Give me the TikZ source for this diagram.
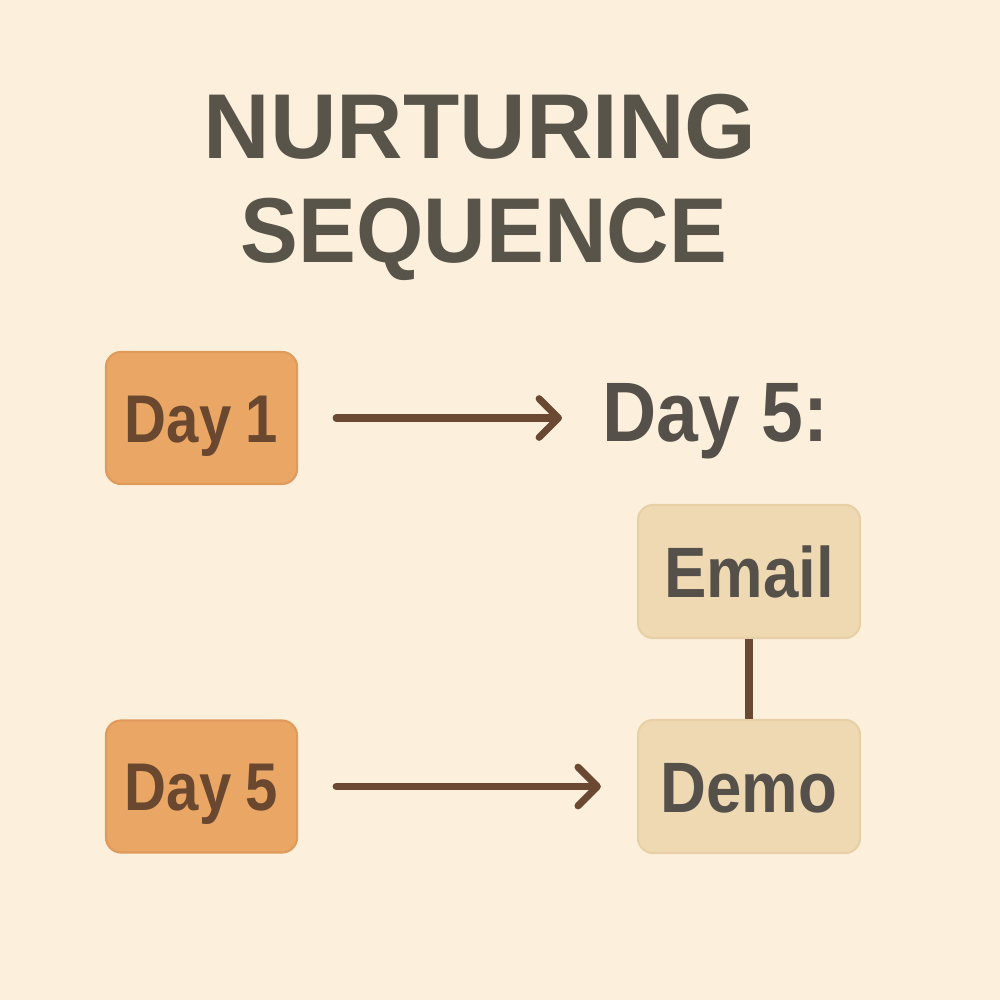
\documentclass[tikz,border=0pt]{standalone}
\usepackage{fontspec}
\setmainfont{Liberation Sans}
\newfontfamily\labelfont[FakeStretch=0.89]{Liberation Sans}
\newfontfamily\dayfont[FakeStretch=0.86, WordSpace=0.9]{Liberation Sans}
\newfontfamily\titlenarrow[FakeStretch=0.94]{Liberation Sans}
\usetikzlibrary{arrows.meta}
\definecolor{bg}{HTML}{FCF0DC}
\definecolor{titlec}{HTML}{58544A}
\definecolor{orangebox}{HTML}{E9A665}
\definecolor{orangeedge}{HTML}{E09B5C}
\definecolor{tanbox}{HTML}{EFD9B2}
\definecolor{tanedge}{HTML}{E8D0A6}
\definecolor{daytext}{HTML}{6A4830}
\definecolor{graytext}{HTML}{55514A}
\definecolor{arrowc}{HTML}{6B4832}
\tikzset{
  daybox/.style={fill=orangebox, draw=orangeedge, line width=0.6pt, rounded corners=4.3pt,
    minimum width=1.91cm, minimum height=1.32cm, inner sep=0pt, text=daytext,
    text height=0.48cm, text depth=0pt,
    font=\dayfont\fontsize{19.2}{24}\selectfont\bfseries},
  actbox/.style={fill=tanbox, draw=tanedge, line width=0.6pt, rounded corners=4.3pt,
    minimum width=2.22cm, minimum height=1.33cm, inner sep=0pt, text=graytext,
    text height=0.51cm, text depth=0pt,
    font=\labelfont\fontsize{20.3}{24}\selectfont\bfseries},
  titletext/.style={text=titlec, font=\fontsize{26.2}{30}\selectfont\bfseries, inner sep=0pt},
  flow/.style={draw=arrowc, line width=2pt, line cap=round,
    -{Straight Barb[length=5.5pt, width=11pt, line cap=round, round]}},
  link/.style={draw=arrowc, line width=2.3pt}
}
\begin{document}
\begin{tikzpicture}[x=0.01cm, y=-0.01cm]
\fill[bg] (0,0) rectangle (1000,1000);
\useasboundingbox (0,0) rectangle (1000,1000);
\node[titletext, anchor=base] (title1) at (480,158) {NURTURING};
\node[titletext, anchor=base] (title2) at (484,262) {\titlenarrow\bfseries SEQUENCE};
\node[daybox] (d1) at (201.5,418) {Day 1};
\node[daybox] (d5) at (201.5,786.5) {Day 5};
\node[text=graytext, font=\labelfont\fontsize{24}{28}\selectfont\bfseries, inner sep=0pt,
  text height=0.6cm, text depth=0pt, anchor=west] (d5lab) at (602,411) {Day 5:};
\node[actbox] (email) at (749,571.5) {Email};
\node[actbox] (demo) at (749,786.5) {Demo};
\draw[flow, shorten <=0.38cm, shorten >=0.4cm] (d1.east) -- (d1.east -| d5lab.west);
\draw[flow, shorten <=0.38cm, shorten >=0.36cm] (d5.east) -- (demo.west);
\draw[link] (email.south) -- (demo.north);
\end{tikzpicture}
\end{document}
